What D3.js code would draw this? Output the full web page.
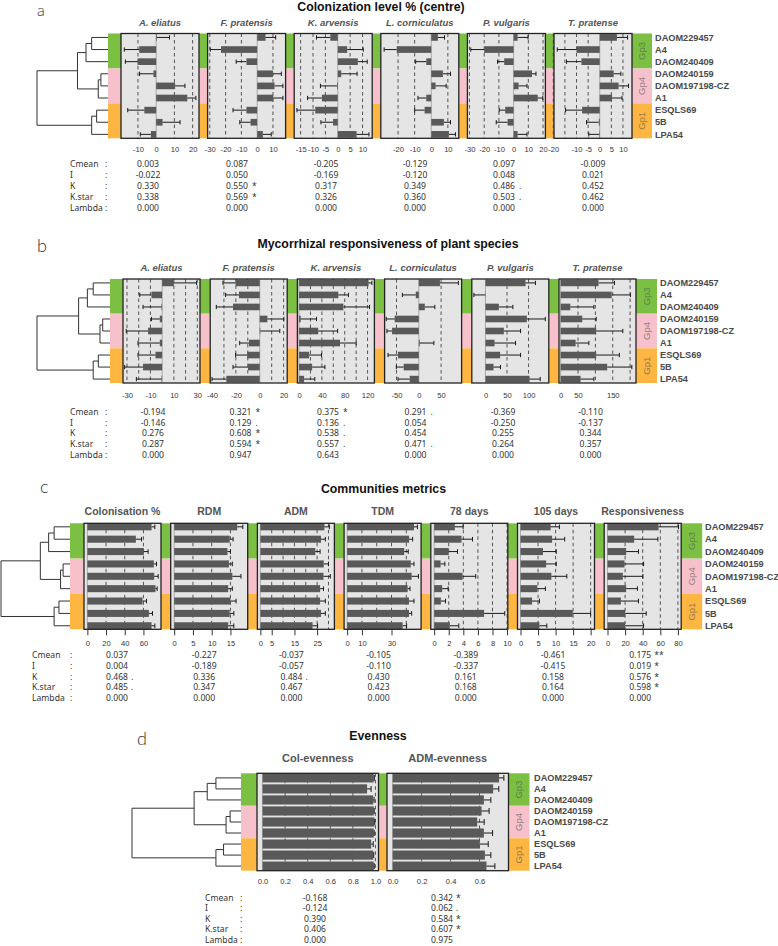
<!DOCTYPE html>
<html>
<head>
<meta charset="utf-8">
<script src="https://cdn.jsdelivr.net/npm/d3@7"></script>
<style>
  body { margin: 0; background: #fff; }
  svg { display: block; }
</style>
</head>
<body>
<svg id="fig" width="778" height="946"></svg>
<script>
// ---- shared data ----
const strains = ['DAOM229457', 'A4', 'DAOM240409', 'DAOM240159', 'DAOM197198-CZ', 'A1', 'ESQLS69', '5B', 'LPA54'];
const groupNames = ['Gp3', 'Gp4', 'Gp1'];
const groupColors = ['#7bc043', '#f7c1cc', '#fcb641'];
// dendrogram merges: [child, child, height (root = 1)]; leaves 0..8, new nodes from 9
const merges = [
  [0, 1, 0.23], [9, 2, 0.31], [3, 4, 0.10], [11, 5, 0.137],
  [10, 12, 0.43], [6, 7, 0.16], [14, 8, 0.23], [13, 15, 1.0]
];
const statNames = ['Cmean', 'I', 'K', 'K.star', 'Lambda'];

// ---- panel a : colonization level ----
const aTitle = 'Colonization level % (centre)';
const aCols = ['A. eliatus', 'F. pratensis', 'K. arvensis', 'L. corniculatus', 'P. vulgaris', 'T. pratense'];
const aMeans = [
  [0.4, -9.3, -10.2, -1.5, 10.4, 17.1, -6.5, 3.5, -2.9],
  [5.3, -22.9, -6.8, 10.0, 11.0, 10.2, -6.8, -4.2, 3.6],
  [-3.0, 3.8, 8.1, 1.4, -0.3, -6.4, -9.1, -1.9, 7.6],
  [4.0, -20.8, -3.0, 7.0, 2.6, -3.0, -4.0, 7.6, 10.6],
  [2.7, -20.0, -6.4, 12.5, 3.4, 16.4, -5.7, -4.1, 2.7],
  [7.4, -10.0, -7.9, 6.0, 8.1, 5.3, -7.6, -0.4, -0.2]
];
const aSE = [
  [6.9, 8.2, 6.7, 7.6, 5.4, 4.7, 9.1, 9.6, 5.8],
  [6.4, 6.8, 6.5, 5.3, 5.3, 6.1, 8.5, 6.8, 5.3],
  [5.6, 6.5, 3.8, 6.4, 6.7, 5.8, 7.4, 4.9, 5.0],
  [4.0, 7.6, 6.4, 4.6, 6.4, 5.0, 6.0, 4.0, 4.0],
  [7.1, 9.1, 4.5, 2.7, 5.7, 3.4, 4.1, 7.7, 6.4],
  [4.6, 8.3, 6.4, 3.1, 4.3, 4.3, 7.1, 5.3, 4.5]
];
const aDomains = [[-19.3, 23.5], [-31.4, 18.0], [-17.6, 13.9], [-30.4, 16.6], [-31.4, 21.6], [-19.7, 13.9]];
const aTicks = [[-10, 0, 10, 20], [-30, -20, -10, 0, 10], [-15, -10, -5, 0, 5, 10], [-20, -10, 0, 10], [-30, -20, -10, 0, 10, 20], [-20, -10, -5, 0, 5, 10]];
const aGrid = [[-10, 10, 20], [-30, -20, -10, 10], [-15, -10, -5, 5, 10], [-20, -10, 10], [-30, -20, -10, 10, 20], [-20, -15, -10, -5, 5, 10]];
const aStats = [
  [0.003, 0.087, -0.205, -0.129, 0.097, -0.009],
  [-0.022, 0.050, -0.169, -0.120, 0.048, 0.021],
  [0.330, 0.550, 0.317, 0.349, 0.486, 0.452],
  [0.338, 0.569, 0.326, 0.360, 0.503, 0.462],
  [0.000, 0.000, 0.000, 0.000, 0.000, 0.000]
];
const aSig = [
  ['', '', '', '', '', ''],
  ['', '', '', '', '', ''],
  ['', '*', '', '', '.', ''],
  ['', '*', '', '', '.', ''],
  ['', '', '', '', '', '']
];

// ---- panel b : mycorrhizal responsiveness ----
const bTitle = 'Mycorrhizal responsiveness of plant species';
const bCols = aCols;
const bMeans = [
  [10, -9.1, -0.5, -2, -12, -2, -5.7, -16.3, -0.5],
  [-20.2, -17.4, -22.4, 6.4, 0.5, -9, -10.6, -9.8, -28],
  [121.8, 68.8, 77.6, 2.9, 33.5, 71.8, 17.6, 22.9, 8.8],
  [47.4, -6.8, 13.5, -54, -60, 2, -46.6, -33.8, -20.3],
  [93, -0.5, 31, 96, 42.6, 21, 34, 18.6, 102.3],
  [109, 147, 27.8, 62.2, 102.4, 43, 102.4, 134, 57.4]
];
const bSE = [
  [19.4, 10, 15.8, 7.1, 18.6, 18.6, 14.9, 15.7, 21.5],
  [10.6, 11.2, 14, 13.8, 16.3, 7.8, 9.6, 12.6, 12],
  [5.8, 17.7, 45.9, 27.7, 34.1, 28.2, 21.8, 22.4, 18.8],
  [41.3, 30, 22.5, 19, 11.4, 31.8, 22.4, 16.6, 26.3],
  [23, 26.5, 32.6, 42.8, 38.8, 48.8, 47.4, 16.3, 24.7],
  [46, 54, 67.9, 40.2, 76.6, 38.3, 66.6, 71, 38.3]
];
const bDomains = [[-33.4, 32.3], [-41.5, 23], [-2.9, 132], [-76.7, 96], [-31.8, 147], [-4.8, 217]];
const bTicks = [[-30, -10, 10, 30], [-40, -20, 0, 20], [0, 40, 80, 120], [-50, 0, 50], [0, 50, 100], [0, 50, 150]];
const bGrid = [[-30, -20, -10, 10, 20, 30], [-30, -20, -10, 10, 20], [20, 40, 60, 80, 100, 120], [-50, 50], [50, 100], [50, 100, 150, 200]];
const bStats = [
  [-0.194, 0.321, 0.375, 0.291, -0.369, -0.110],
  [-0.146, 0.129, 0.136, 0.054, -0.250, -0.137],
  [0.276, 0.608, 0.538, 0.454, 0.255, 0.344],
  [0.287, 0.594, 0.557, 0.471, 0.264, 0.357],
  [0.000, 0.947, 0.643, 0.000, 0.000, 0.000]
];
const bSig = [
  ['', '*', '*', '.', '', ''],
  ['', '.', '.', '', '', ''],
  ['', '*', '.', '', '', ''],
  ['', '*', '.', '.', '', ''],
  ['', '', '', '', '', '']
];

// ---- panel c : community metrics ----
const cTitle = 'Communities metrics';
const cCols = ['Colonisation %', 'RDM', 'ADM', 'TDM', '78 days', '105 days', 'Responsiveness'];
const cMeans = [
  [68.7, 51.9, 60.4, 71.1, 71.5, 72.9, 59.0, 65.8, 68.7],
  [16.8, 14.8, 14.2, 14.6, 15.5, 14.4, 15.0, 14.8, 14.4],
  [28.2, 26.7, 24.2, 27.9, 27.8, 26.3, 26.3, 26.7, 23.0],
  [45.2, 41.9, 38.6, 43.0, 43.6, 40.9, 41.8, 41.8, 37.5],
  [2.84, 3.75, 2.0, 0.88, 3.9, 1.1, 0.92, 6.85, 2.15],
  [8.6, 9.0, 6.4, 7.3, 8.8, 4.8, 3.3, 14.9, 5.4],
  [58.0, 30.3, 21.2, 19.3, 17.4, 21.2, 15.2, 20.1, 20.1]
];
const cSE = [
  [3.5, 6.1, 4.6, 2.9, 4.3, 1.8, 4.3, 3.9, 3.5],
  [1.5, 0.9, 0.8, 0.9, 2.3, 1.1, 1.5, 1.1, 1.5],
  [2.2, 1.9, 2.1, 2.1, 3.0, 1.5, 2.3, 1.9, 2.2],
  [2.3, 2.4, 2.7, 2.2, 4.6, 1.6, 3.4, 1.8, 2.7],
  [1.13, 1.51, 1.2, 0.59, 1.8, 0.82, 0.64, 2.83, 1.23],
  [2.5, 3.6, 3.8, 2.9, 4.4, 2.3, 2.1, 5.1, 2.1],
  [22.7, 26.9, 14.0, 21.7, 22.8, 12.8, 20.0, 23.9, 20.9]
];
const cDomains = [[-3.6, 78.8], [-0.93, 19.6], [-1.3, 32.6], [-2.05, 50], [-0.46, 10.1], [-0.86, 21.1], [-3.75, 83.75]];
const cTicks = [[0, 20, 40, 60], [0, 5, 10, 15], [0, 5, 15, 25], [0, 10, 30], [0, 2, 4, 6, 8, 10], [0, 5, 10, 15, 20], [0, 20, 40, 60, 80]];
const cGrid = [[20, 40, 60], [5, 10, 15], [5, 10, 15, 20, 25, 30], [10, 20, 30, 40], [2, 4, 6, 8, 10], [5, 10, 15, 20], [20, 40, 60, 80]];
const cStats = [
  [0.037, -0.227, -0.037, -0.105, -0.389, -0.461, 0.175],
  [0.004, -0.189, -0.057, -0.110, -0.337, -0.415, 0.019],
  [0.468, 0.336, 0.484, 0.430, 0.161, 0.158, 0.576],
  [0.485, 0.347, 0.467, 0.423, 0.168, 0.164, 0.598],
  [0.000, 0.000, 0.000, 0.000, 0.000, 0.000, 0.000]
];
const cSig = [
  ['', '', '', '', '', '', '**'],
  ['', '', '', '', '', '', '*'],
  ['.', '', '.', '', '', '', '*'],
  ['.', '', '', '', '', '', '*'],
  ['', '', '', '', '', '', '']
];

// ---- panel d : evenness ----
const dTitle = 'Evenness';
const dCols = ['Col-evenness', 'ADM-evenness'];
const dMeans = [
  [0.985, 0.926, 0.980, 0.985, 0.991, 0.985, 0.962, 0.980, 0.985],
  [0.735, 0.694, 0.630, 0.614, 0.584, 0.630, 0.602, 0.637, 0.648]
];
const dSE = [
  [0.005, 0.035, 0.008, 0.004, 0.003, 0.004, 0.018, 0.005, 0.004],
  [0.033, 0.039, 0.048, 0.052, 0.048, 0.060, 0.058, 0.041, 0.058]
];
const dDomains = [[-0.049, 1.027], [-0.039, 0.80]];
const dTicks = [[0, 0.2, 0.4, 0.6, 0.8, 1.0], [0, 0.2, 0.4, 0.6]];
const dGrid = [[0.2, 0.4, 0.6, 0.8, 1.0], [0.2, 0.4, 0.6]];
const dStats = [
  [-0.168, 0.342],
  [-0.124, 0.062],
  [0.390, 0.584],
  [0.406, 0.607],
  [0.000, 0.975]
];
const dSig = [['', '*'], ['', '.'], ['', '*'], ['', '*'], ['', '']];

// ---- drawing ----
const FONT = "'Liberation Sans', Arial, Helvetica, sans-serif";
const svg = d3.select('#fig');

function drawPanel(P, L) {
  const g = svg.append('g');
  const n = strains.length;
  const y = d3.scaleBand().domain(d3.range(n)).range([L.top, L.bottom])
    .paddingInner(L.pi).paddingOuter(L.po);
  const yc = i => y(i) + y.bandwidth() / 2;
  const third = (L.bottom - L.top) / 3;

  const boxes = P.cols.map((c, i) => ({ x0: L.boxX0 + i * L.period, x1: L.boxX0 + i * L.period + L.boxW }));
  const lastX = boxes[boxes.length - 1].x1;

  // colour strips (left, between boxes, right)
  const strips = [[L.tipX, boxes[0].x0]];
  for (let i = 1; i < boxes.length; i++) strips.push([boxes[i - 1].x1, boxes[i].x0]);
  strips.push([lastX, lastX + L.groupW]);
  strips.forEach(s => {
    groupColors.forEach((col, k) => {
      g.append('rect').attr('x', s[0]).attr('y', L.top + k * third)
        .attr('width', s[1] - s[0]).attr('height', third).attr('fill', col);
    });
  });

  // group labels in right strip
  groupNames.forEach((nm, k) => {
    g.append('text')
      .attr('transform', `translate(${lastX + L.groupW / 2},${L.top + (k + 0.5) * third}) rotate(-90)`)
      .attr('text-anchor', 'middle').attr('dy', '0.35em')
      .attr('font-family', FONT).attr('font-size', 9.5)
      .attr('fill', '#555').attr('fill-opacity', 0.65)
      .text(nm);
  });

  // strain labels
  g.selectAll('text.strain').data(strains).enter().append('text')
    .attr('class', 'strain')
    .attr('x', L.labelX).attr('y', (d, i) => yc(i)).attr('dy', '0.35em')
    .attr('font-family', FONT).attr('font-weight', 'bold').attr('font-size', 9.2)
    .attr('fill', '#4a4a4a')
    .text(d => d);

  // dendrogram
  const hx = d3.scaleLinear().domain([0, 1]).range([L.tipX, L.rootX]);
  const nodeY = d3.range(n).map(yc);
  const nodeH = d3.range(n).map(() => 0);
  const tree = g.append('g').attr('fill', 'none').attr('stroke', '#333').attr('stroke-width', 1);
  merges.forEach(([a, b, h]) => {
    nodeY.push((nodeY[a] + nodeY[b]) / 2);
    nodeH.push(h);
    tree.append('path')
      .attr('d', `M${hx(nodeH[a])},${nodeY[a]}H${hx(h)}V${nodeY[b]}H${hx(nodeH[b])}`);
  });

  // title + letter
  g.append('text').attr('x', L.letterX).attr('y', L.letterY)
    .attr('font-family', "Lato, 'DejaVu Sans', sans-serif").attr('font-weight', 300)
    .attr('font-size', L.letterFs || 18).attr('fill', '#333').text(L.letter);
  g.append('text').attr('x', L.titleX).attr('y', L.titleY).attr('text-anchor', 'middle')
    .attr('font-family', FONT).attr('font-weight', 'bold').attr('font-size', 12.3)
    .attr('fill', '#111').text(P.title);

  const capH = y.bandwidth() * 0.65;

  P.cols.forEach((name, i) => {
    const b = boxes[i];
    const x = d3.scaleLinear().domain(P.domains[i]).range([b.x0, b.x1]);
    const cg = g.append('g');

    cg.append('rect').attr('x', b.x0).attr('y', L.top)
      .attr('width', b.x1 - b.x0).attr('height', L.bottom - L.top).attr('fill', '#e5e5e5');

    cg.selectAll('line.grid').data(P.grid[i]).enter().append('line')
      .attr('class', 'grid')
      .attr('x1', d => x(d)).attr('x2', d => x(d))
      .attr('y1', L.top).attr('y2', L.bottom)
      .attr('stroke', '#444').attr('stroke-width', 0.9).attr('stroke-dasharray', '3.5,3');

    cg.append('line').attr('x1', x(0)).attr('x2', x(0)).attr('y1', L.top).attr('y2', L.bottom)
      .attr('stroke', '#9a9a9a').attr('stroke-width', 0.8);

    const means = P.means[i], se = P.se[i];
    cg.selectAll('rect.bar').data(means).enter().append('rect')
      .attr('class', 'bar')
      .attr('x', d => Math.min(x(0), x(d)))
      .attr('width', d => Math.abs(x(d) - x(0)))
      .attr('y', (d, j) => y(j)).attr('height', y.bandwidth())
      .attr('fill', '#595959');

    const errEnd = (d, j) => x(d + (d < 0 ? -se[j] : se[j]));
    const eg = cg.append('g').attr('stroke', '#1a1a1a').attr('stroke-width', 1);
    means.forEach((d, j) => {
      eg.append('line').attr('x1', x(d)).attr('x2', errEnd(d, j)).attr('y1', yc(j)).attr('y2', yc(j));
      eg.append('line').attr('x1', errEnd(d, j)).attr('x2', errEnd(d, j))
        .attr('y1', yc(j) - capH / 2).attr('y2', yc(j) + capH / 2);
    });

    cg.append('rect').attr('x', b.x0).attr('y', L.top)
      .attr('width', b.x1 - b.x0).attr('height', L.bottom - L.top)
      .attr('fill', 'none').attr('stroke', '#222').attr('stroke-width', 1.3);

    // axis
    const fs = 7.6;
    const pad = L.axisY - 0.71 * fs - L.bottom - L.tickLen;
    const axis = d3.axisBottom(x).tickValues(P.ticks[i]).tickSize(L.tickLen).tickPadding(pad)
      .tickFormat(P.fmt || (d => String(d)));
    const ag = cg.append('g').attr('transform', `translate(0,${L.bottom})`).call(axis)
      .attr('font-family', FONT).attr('font-size', fs);
    ag.select('.domain').remove();
    ag.selectAll('line').attr('stroke', '#333');
    ag.selectAll('text').attr('fill', '#333');

    // column title
    cg.append('text').attr('x', (b.x0 + b.x1) / 2).attr('y', L.subY).attr('text-anchor', 'middle')
      .attr('font-family', FONT).attr('font-weight', 'bold')
      .attr('font-style', L.italic ? 'italic' : 'normal')
      .attr('font-size', L.subFs).attr('fill', '#555').text(name);
  });

  // phylogenetic signal table
  const sg = g.append('g').attr('font-family', "'Noto Sans', 'Open Sans', sans-serif")
    .attr('font-size', 8.6).attr('fill', '#333');
  statNames.forEach((s, r) => {
    const yy = L.statY0 + r * L.statDy;
    sg.append('text').attr('x', L.statLabelX).attr('y', yy).attr('dy', '0.35em').text(s);
    sg.append('text').attr('x', L.statColonX).attr('y', yy).attr('dy', '0.35em').text(':');
    P.stats[r].forEach((v, c) => {
      const cx = L.statCol0 + c * L.statStep;
      sg.append('text').attr('x', cx).attr('y', yy).attr('dy', '0.35em')
        .attr('text-anchor', 'middle').text(v.toFixed(3));
      if (P.sig[r][c]) {
        sg.append('text').attr('x', cx + L.sigDx).attr('y', yy).attr('dy', '0.35em').text(P.sig[r][c]);
      }
    });
  });
}

drawPanel(
  { title: aTitle, cols: aCols, means: aMeans, se: aSE, domains: aDomains, ticks: aTicks, grid: aGrid, stats: aStats, sig: aSig },
  { top: 33.5, bottom: 138.3, pi: 0.45, po: 0.05, rootX: 37, tipX: 108, boxX0: 121, boxW: 78, period: 86.6,
    groupW: 20, labelX: 655, letter: 'a', letterX: 37, letterY: 16, letterFs: 16, titleX: 381, titleY: 10.5,
    subY: 25.5, subFs: 9.5, italic: true, axisY: 152, tickLen: 0,
    statLabelX: 70, statColonX: 105, statY0: 164, statDy: 11, statCol0: 148, statStep: 89, sigDx: 15 }
);

drawPanel(
  { title: bTitle, cols: bCols, means: bMeans, se: bSE, domains: bDomains, ticks: bTicks, grid: bGrid, stats: bStats, sig: bSig },
  { top: 279, bottom: 383, pi: 0.45, po: 0.05, rootX: 37, tipX: 110, boxX0: 123, boxW: 77, period: 87.2,
    groupW: 21, labelX: 660, letter: 'b', letterX: 37, letterY: 252, titleX: 388, titleY: 248,
    subY: 271, subFs: 9.5, italic: true, axisY: 398, tickLen: 0,
    statLabelX: 70, statColonX: 105, statY0: 412, statDy: 10.7, statCol0: 153, statStep: 87.5, sigDx: 15 }
);

drawPanel(
  { title: cTitle, cols: cCols, means: cMeans, se: cSE, domains: cDomains, ticks: cTicks, grid: cGrid, stats: cStats, sig: cSig },
  { top: 523.3, bottom: 629.3, pi: 0.43, po: 0.0, rootX: 1, tipX: 70, boxX0: 84, boxW: 77, period: 86.7,
    groupW: 21, labelX: 705, letter: 'c', letterX: 40, letterY: 493, titleX: 383.5, titleY: 493,
    subY: 515, subFs: 10.5, italic: false, axisY: 646, tickLen: 6,
    statLabelX: 32, statColonX: 70, statY0: 655, statDy: 10.8, statCol0: 117, statStep: 87.2, sigDx: 14 }
);

drawPanel(
  { title: dTitle, cols: dCols, means: dMeans, se: dSE, domains: dDomains, ticks: dTicks, grid: dGrid, stats: dStats, sig: dSig,
    fmt: d3.format('.1f') },
  { top: 773.3, bottom: 870.7, pi: 0.17, po: 0.0, rootX: 132, tipX: 241, boxX0: 257, boxW: 121.5, period: 130,
    groupW: 21, labelX: 534, letter: 'd', letterX: 137, letterY: 745, titleX: 378, titleY: 740,
    subY: 762, subFs: 11, italic: false, axisY: 884, tickLen: 0,
    statLabelX: 205, statColonX: 240, statY0: 898, statDy: 10.4, statCol0: 315, statStep: 127, sigDx: 14 }
);
</script>
</body>
</html>
